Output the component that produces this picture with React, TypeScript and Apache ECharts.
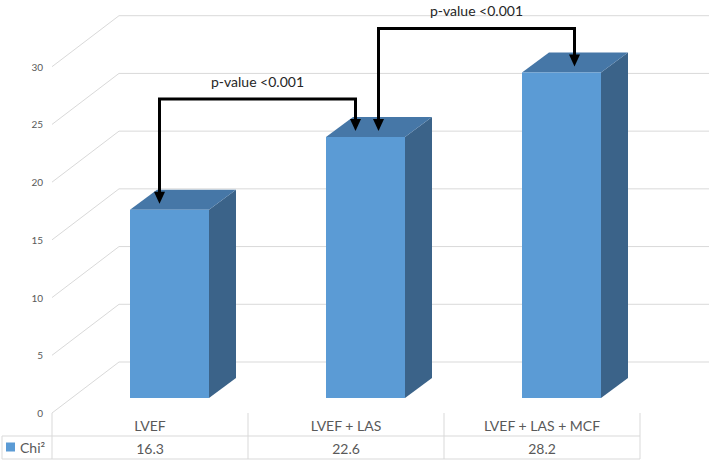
import React, { useEffect, useRef } from "react";
import * as echarts from "echarts";

const categories = ["LVEF", "LVEF + LAS", "LVEF + LAS + MCF"];
const chiValues = [16.3, 22.6, 28.2];
const seriesName = "Chi²";
const yTicks = [0, 5, 10, 15, 20, 25, 30];
const compareFrom = [0, 1];
const compareTo = [1, 2];
const compareLevel = [27.2, 33.3];
const compareLabel = ["p-value <0.001", "p-value <0.001"];

const FONT = "Lato, 'Liberation Sans', sans-serif";
const TXT = "#595959";
const GRID = "#d9d9d9";

// 3D projection (pixels)
const DEPTH_DX = 67;
const DEPTH_DY = -51;
const BAR_SHIFT_X = 19.5;
const BAR_SHIFT_Y = -15;
const BAR_W = 79;
const BAR_DX = 27;
const BAR_DY = -20;
const BRACKET_SHIFT = [-10, 13];

export default function App() {
  const ref = useRef<HTMLDivElement>(null);
  useEffect(() => {
    if (!ref.current) return;
    const chart = echarts.init(ref.current, null, { renderer: "svg" });

    const gridSeries = {
      type: "custom",
      name: "grid",
      z: 1,
      silent: true,
      clip: false,
      data: yTicks.map((t) => [0, t]),
      renderItem: (params: any, api: any) => {
        const y = api.coord([0, api.value(1)])[1];
        const x0 = params.coordSys.x;
        return {
          type: "polyline",
          shape: {
            points: [
              [x0, y],
              [x0 + DEPTH_DX, y + DEPTH_DY],
              [api.getWidth(), y + DEPTH_DY],
            ],
          },
          style: { stroke: GRID, lineWidth: 1, fill: "none" },
        };
      },
    };

    const tableSeries = {
      type: "custom",
      name: "table",
      z: 1,
      silent: true,
      clip: false,
      data: categories.map((_, i) => [i, 0]),
      renderItem: (params: any, api: any) => {
        const i = api.value(0);
        const band = api.size([1, 0])[0];
        const cx = api.coord([i, 0])[0];
        const y0 = params.coordSys.y + params.coordSys.height;
        const left = cx - band / 2;
        const right = cx + band / 2;
        const rowH = 23;
        const ls = { stroke: GRID, lineWidth: 1 };
        const children: any[] = [
          { type: "line", shape: { x1: right, y1: y0, x2: right, y2: y0 + 2 * rowH }, style: ls },
          { type: "line", shape: { x1: left, y1: y0 + rowH, x2: right, y2: y0 + rowH }, style: ls },
          { type: "line", shape: { x1: left, y1: y0 + 2 * rowH, x2: right, y2: y0 + 2 * rowH }, style: ls },
        ];
        if (i === 0) {
          children.push(
            { type: "line", shape: { x1: left, y1: y0, x2: left, y2: y0 + 2 * rowH }, style: ls },
            { type: "line", shape: { x1: 2, y1: y0 + rowH, x2: left, y2: y0 + rowH }, style: ls },
            { type: "line", shape: { x1: 2, y1: y0 + 2 * rowH, x2: left, y2: y0 + 2 * rowH }, style: ls },
            { type: "line", shape: { x1: 2, y1: y0 + rowH, x2: 2, y2: y0 + 2 * rowH }, style: ls }
          );
        }
        return { type: "group", children };
      },
    };

    const barSeries = {
      type: "custom",
      name: seriesName,
      z: 3,
      clip: false,
      itemStyle: { color: "#5b9bd5" },
      data: chiValues.map((v, i) => [i, v]),
      renderItem: (params: any, api: any) => {
        const i = api.value(0);
        const v = api.value(1);
        const base = api.coord([i, 0]);
        const top = api.coord([i, v]);
        const cx = base[0] + BAR_SHIFT_X;
        const L = cx - BAR_W / 2;
        const R = cx + BAR_W / 2;
        const B = base[1] + BAR_SHIFT_Y;
        const T = top[1] + BAR_SHIFT_Y;
        return {
          type: "group",
          children: [
            {
              type: "polygon",
              shape: { points: [[R, T], [R + BAR_DX, T + BAR_DY], [R + BAR_DX, B + BAR_DY], [R, B]] },
              style: { fill: "#3b6389" },
            },
            {
              type: "polygon",
              shape: { points: [[L, T], [R, T], [R + BAR_DX, T + BAR_DY], [L + BAR_DX, T + BAR_DY]] },
              style: { fill: "#4677a7" },
            },
            {
              type: "rect",
              shape: { x: L, y: T, width: BAR_W, height: B - T },
              style: { fill: "#5b9bd5" },
            },
          ],
        };
      },
    };

    const bracketSeries = {
      type: "custom",
      name: "brackets",
      z: 5,
      silent: true,
      clip: false,
      data: compareLevel.map((lv, k) => [k, lv]),
      renderItem: (params: any, api: any) => {
        const k = params.dataIndex;
        const a = compareFrom[k];
        const b = compareTo[k];
        const ly = api.coord([0, compareLevel[k]])[1];
        const shift = BRACKET_SHIFT[k];
        const ax = api.coord([a, 0])[0] + BAR_SHIFT_X + shift;
        const bx = api.coord([b, 0])[0] + BAR_SHIFT_X + shift;
        const tipA = api.coord([a, chiValues[a]])[1] + BAR_SHIFT_Y - 6;
        const tipB = api.coord([b, chiValues[b]])[1] + BAR_SHIFT_Y - 6;
        const ah = 12;
        const aw = 5.5;
        const ls = { stroke: "#000", lineWidth: 3, fill: "none", lineJoin: "miter" };
        return {
          type: "group",
          children: [
            {
              type: "polyline",
              shape: { points: [[ax, tipA - ah + 1], [ax, ly], [bx, ly], [bx, tipB - ah + 1]] },
              style: ls,
            },
            {
              type: "polygon",
              shape: { points: [[ax - aw, tipA - ah], [ax + aw, tipA - ah], [ax, tipA]] },
              style: { fill: "#000" },
            },
            {
              type: "polygon",
              shape: { points: [[bx - aw, tipB - ah], [bx + aw, tipB - ah], [bx, tipB]] },
              style: { fill: "#000" },
            },
            {
              type: "text",
              style: {
                x: (ax + bx) / 2,
                y: ly - 18,
                text: compareLabel[k],
                fill: "#262626",
                font: `14px ${FONT}`,
                align: "center",
                verticalAlign: "middle",
              },
            },
          ],
        };
      },
    };

    chart.setOption({
      animation: false,
      backgroundColor: "#fff",
      grid: { left: 52, right: 69, top: 66.7, bottom: 48 },
      legend: {
        data: [seriesName],
        left: 6,
        top: 440,
        padding: 0,
        icon: "rect",
        itemWidth: 9,
        itemHeight: 9,
        selectedMode: false,
        textStyle: { fontSize: 14, color: TXT, fontFamily: FONT },
      },
      xAxis: [
        {
          type: "category",
          data: categories,
          axisLine: { show: false },
          axisTick: { show: false },
          axisLabel: { fontSize: 14, color: TXT, fontFamily: FONT, margin: 5 },
        },
        {
          type: "category",
          data: chiValues.map((v) => v.toFixed(1)),
          position: "bottom",
          offset: 23,
          axisLine: { show: false },
          axisTick: { show: false },
          axisLabel: { fontSize: 14, color: TXT, fontFamily: FONT, margin: 5 },
        },
      ],
      yAxis: {
        type: "value",
        min: 0,
        max: 30,
        interval: 5,
        axisLine: { show: false },
        axisTick: { show: false },
        splitLine: { show: false },
        axisLabel: { fontSize: 10, color: TXT, fontFamily: FONT, margin: 9 },
      },
      series: [gridSeries, tableSeries, barSeries, bracketSeries],
    });
    return () => chart.dispose();
  }, []);

  return (
    <div
      ref={ref}
      style={{ position: "fixed", left: 0, top: 0, width: 709, height: 461, background: "#fff" }}
    />
  );
}
